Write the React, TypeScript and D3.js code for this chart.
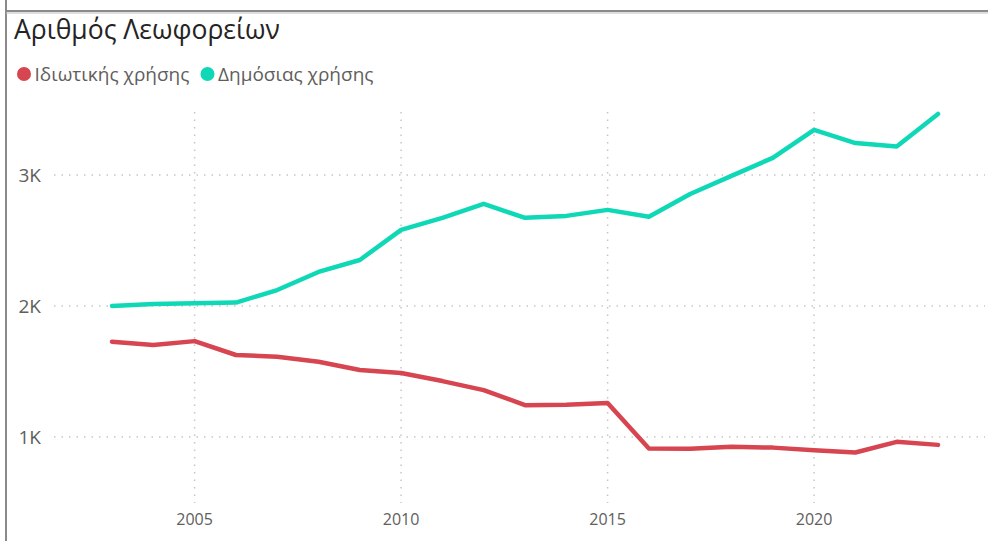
import { useEffect, useRef } from 'react'
import * as d3 from 'd3'

const years = [2003, 2004, 2005, 2006, 2007, 2008, 2009, 2010, 2011, 2012, 2013, 2014, 2015, 2016, 2017, 2018, 2019, 2020, 2021, 2022, 2023]
const privateUse = [1727, 1701, 1731, 1625, 1612, 1574, 1510, 1487, 1426, 1357, 1242, 1245, 1258, 911, 909, 924, 918, 898, 881, 962, 939]
const publicUse = [2000, 2015, 2020, 2025, 2121, 2259, 2350, 2580, 2672, 2779, 2672, 2687, 2733, 2680, 2854, 2992, 3130, 3343, 3243, 3217, 3465]
const xTicks = [2005, 2010, 2015, 2020]
const yTicks = [1000, 2000, 3000]
const seriesNames = ['Ιδιωτικής χρήσης', 'Δημόσιας χρήσης']
const title = 'Αριθμός Λεωφορείων'

const RED = '#D64550'
const TEAL = '#0FD8B7'
const FONT = "'Segoe UI', 'Open Sans', sans-serif"

export default function App() {
  const svgRef = useRef<SVGSVGElement>(null)

  useEffect(() => {
    if (!svgRef.current) return
    const svg = d3.select(svgRef.current)
    svg.selectAll('*').remove()

    const width = 988
    const height = 541

    const x = d3.scaleLinear().domain([2003, 2023]).range([112, 938])
    const y = d3.scaleLinear().domain([480, 3480]).range([505, 112])

    // frame
    svg.append('line')
      .attr('x1', 6).attr('x2', 6).attr('y1', 0).attr('y2', height)
      .attr('stroke', '#8a8a8a').attr('stroke-width', 2)
    svg.append('line')
      .attr('x1', 6).attr('x2', width).attr('y1', 11).attr('y2', 11)
      .attr('stroke', '#8a8a8a').attr('stroke-width', 2)
    svg.append('line')
      .attr('x1', 6).attr('x2', width).attr('y1', 13)
      .attr('y2', 13).attr('stroke', '#bdbdbd').attr('stroke-width', 1)

    // title
    svg.append('text')
      .attr('x', 14).attr('y', 39)
      .attr('font-family', FONT).attr('font-size', 26.5)
      .attr('fill', '#252423')
      .text(title)

    // legend
    const legendX = [24, 207.5]
    const colors = [RED, TEAL]
    seriesNames.forEach((name, i) => {
      svg.append('circle')
        .attr('cx', legendX[i]).attr('cy', 74).attr('r', 7)
        .attr('fill', colors[i])
      svg.append('text')
        .attr('x', legendX[i] + 10.5).attr('y', 81)
        .attr('font-family', FONT).attr('font-size', 19)
        .attr('fill', '#605E5C')
        .text(name)
    })

    // gridlines
    svg.append('g')
      .selectAll('line')
      .data(yTicks)
      .join('line')
      .attr('x1', 54).attr('x2', 985)
      .attr('y1', d => y(d)).attr('y2', d => y(d))
      .attr('stroke', '#C8C6C4').attr('stroke-width', 1.5)
      .attr('stroke-dasharray', '1.5,6')

    svg.append('g')
      .selectAll('line')
      .data(xTicks)
      .join('line')
      .attr('x1', d => x(d)).attr('x2', d => x(d))
      .attr('y1', 112).attr('y2', 503)
      .attr('stroke', '#C8C6C4').attr('stroke-width', 1.5)
      .attr('stroke-dasharray', '1.5,6')

    // axis labels
    svg.append('g')
      .selectAll('text')
      .data(yTicks)
      .join('text')
      .attr('x', 41).attr('y', d => y(d) + 7)
      .attr('text-anchor', 'end')
      .attr('font-family', FONT).attr('font-size', 19)
      .attr('fill', '#605E5C')
      .text(d => d3.format('.0s')(d).replace('k', 'K'))

    svg.append('g')
      .selectAll('text')
      .data(xTicks)
      .join('text')
      .attr('x', d => x(d)).attr('y', 525)
      .attr('text-anchor', 'middle')
      .attr('font-family', FONT).attr('font-size', 16)
      .attr('fill', '#605E5C')
      .text(d => String(d))

    const line = d3.line<number>()
      .x((_, i) => x(years[i]))
      .y(d => y(d))

    ;[privateUse, publicUse].forEach((values, i) => {
      svg.append('path')
        .datum(values)
        .attr('fill', 'none')
        .attr('stroke', colors[i])
        .attr('stroke-width', 4.5)
        .attr('stroke-linejoin', 'round')
        .attr('stroke-linecap', 'round')
        .attr('d', line)
    })
  }, [])

  return (
    <div style={{ position: 'fixed', left: 0, top: 0, width: 988, height: 541, background: '#fff' }}>
      <svg ref={svgRef} width={988} height={541} style={{ display: 'block' }} />
    </div>
  )
}
